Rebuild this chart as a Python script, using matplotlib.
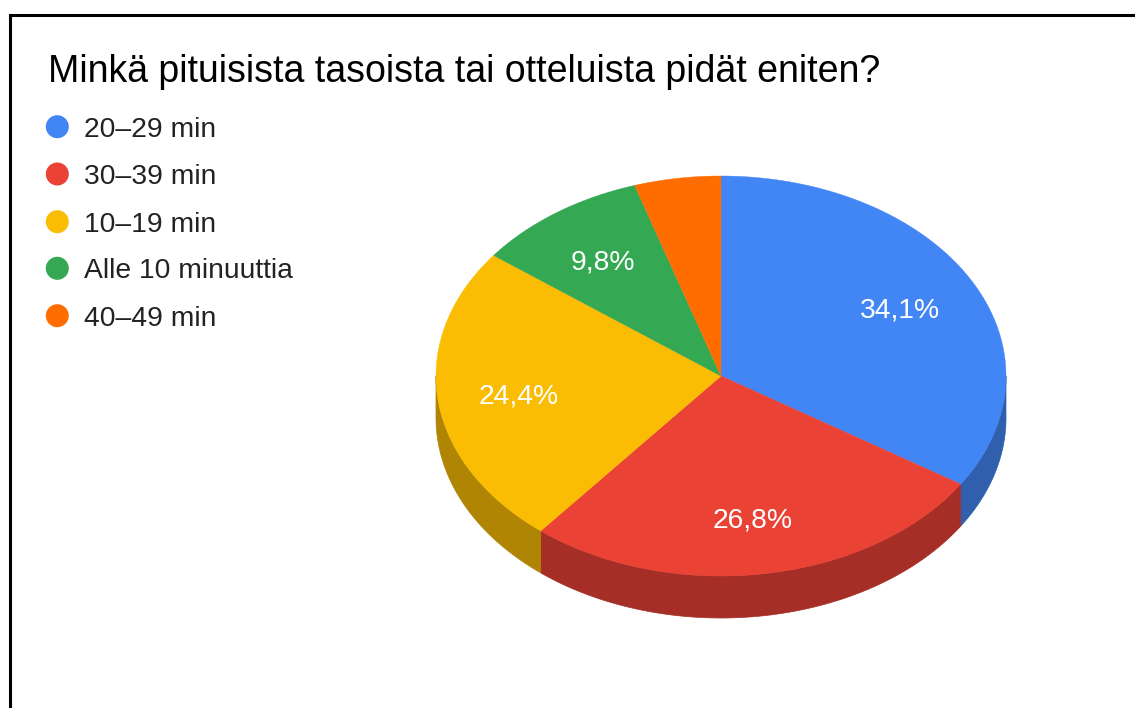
import numpy as np
import matplotlib.pyplot as plt
from matplotlib.patches import Polygon, Circle

plt.rcParams['font.family'] = ['Liberation Sans', 'DejaVu Sans']

title = 'Minkä pituisista tasoista tai otteluista pidät eniten?'
categories = ['20–29 min', '30–39 min', '10–19 min', 'Alle 10 minuuttia', '40–49 min']
shares = [34.1, 26.8, 24.4, 9.8, 4.9]
colors = ['#4285f4', '#ea4335', '#fbbc04', '#34a853', '#ff6d01']
side_colors = ['#2f5fad', '#a52e26', '#b08503', '#257a3c', '#b34d01']
# slices this small get no percentage label
min_label_share = 5.0

W, H = 1135, 708
fig = plt.figure(figsize=(W / 100, H / 100), dpi=100)
ax = fig.add_axes([0, 0, 1, 1])
ax.set_xlim(0, W)
ax.set_ylim(H, 0)
ax.axis('off')

# pie geometry in pixels
cx, cy = 721, 376
rx, ry = 285, 200
depth = 42
label_r = 0.715


def ell(theta):
    # theta in degrees, clockwise from 12 o'clock
    t = np.radians(theta)
    return cx + rx * np.sin(t), cy - ry * np.cos(t)


bounds = np.concatenate([[0], np.cumsum(shares) / sum(shares) * 360])

# side wall: only the front half (90..270 deg) is visible
for i in range(len(shares)):
    a, b = max(bounds[i], 90), min(bounds[i + 1], 270)
    if b <= a:
        continue
    th = np.linspace(a, b, 100)
    x, y = ell(th)
    pts = np.column_stack([np.concatenate([x, x[::-1]]),
                           np.concatenate([y, y[::-1] + depth])])
    ax.add_patch(Polygon(pts, closed=True, facecolor=side_colors[i],
                         edgecolor=side_colors[i], lw=0.5))

# top surface
for i in range(len(shares)):
    th = np.linspace(bounds[i], bounds[i + 1], 150)
    x, y = ell(th)
    pts = np.column_stack([np.concatenate([[cx], x]), np.concatenate([[cy], y])])
    ax.add_patch(Polygon(pts, closed=True, facecolor=colors[i],
                         edgecolor=colors[i], lw=0.3))
    if shares[i] >= min_label_share:
        mid = (bounds[i] + bounds[i + 1]) / 2
        t = np.radians(mid)
        lx = cx + label_r * rx * np.sin(t)
        ly = cy - label_r * ry * np.cos(t)
        ax.text(lx, ly, f'{shares[i]:.1f}%'.replace('.', ','), color='white',
                fontsize=20.3, ha='center', va='center_baseline')

# title and legend
ax.text(48, 82, title, fontsize=27, color='#000000', ha='left', va='baseline')
leg_y = [126.7, 174, 221.7, 268.3, 315.7]
for yy, name, c in zip(leg_y, categories, colors):
    ax.add_patch(Circle((57.3, yy), 11.5, facecolor=c, edgecolor='none'))
    ax.text(84, yy + 10, name, fontsize=20.3, color='#222222',
            ha='left', va='baseline')

# frame around the chart
ax.plot([10, 10, W + 10], [H + 10, 14.7, 14.7], color='black', lw=2.2,
        solid_joinstyle='miter')

fig.savefig('out.png', dpi=100)
